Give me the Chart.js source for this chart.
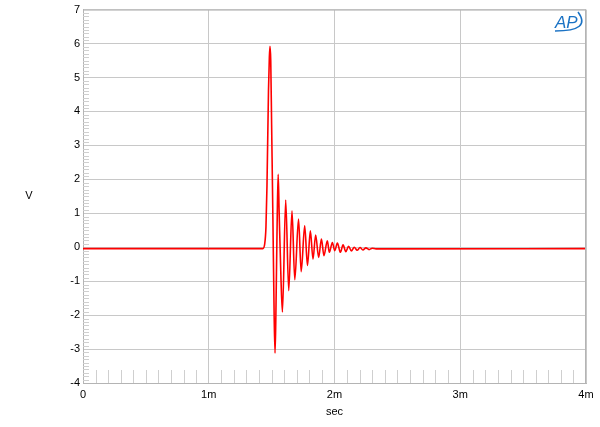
<!DOCTYPE html>
<html>
<head>
<meta charset="UTF-8">
<script src="https://cdn.jsdelivr.net/npm/chart.js@4"></script>
<style>
  html, body { margin: 0; padding: 0; background: #fff; }
  #wrap { width: 600px; height: 427px; }
</style>
</head>
<body>
<div id="wrap"><canvas id="c" width="600" height="427"></canvas></div>
<script>
// time in ms, voltage in V
const times = [0, 1.43, 1.445, 1.455, 1.463, 1.475, 1.482, 1.487, 1.493, 1.5, 1.51, 1.52, 1.527,
  1.533, 1.545, 1.552, 1.56, 1.575, 1.586, 1.612, 1.636, 1.662, 1.684, 1.714, 1.735, 1.763,
  1.785, 1.808, 1.829, 1.850, 1.874, 1.896, 1.916, 1.943, 1.959, 1.983, 2.002, 2.023, 2.047,
  2.068, 2.09, 2.112, 2.134, 2.157, 2.18, 2.203, 2.226, 2.25, 2.275, 2.3, 2.33, 4.0];
const volts = [-0.04, -0.04, 0.1, 0.6, 1.8, 4.6, 5.6, 5.92, 5.5, 3.6, 0.9, -2.0, -3.12,
  -2.2, 1.0, 2.15, 1.0, -1.0, -1.91, 1.39, -1.28, 1.07, -0.96, 0.83, -0.72, 0.63,
  -0.54, 0.48, -0.35, 0.36, -0.30, 0.24, -0.25, 0.19, -0.15, 0.14, -0.10, 0.12, -0.15,
  0.07, -0.13, 0.03, -0.11, 0.0, -0.09, -0.01, -0.08, -0.02, -0.07, -0.03, -0.05, -0.04];

const xTicks = [0, 1, 2, 3, 4];
const xLabels = ['0', '1m', '2m', '3m', '4m'];

const points = times.map((t, i) => ({ x: t, y: volts[i] }));

// minor ticks + axis label V + AP logo
const extras = {
  id: 'extras',
  beforeDatasetsDraw(chart) {
    const ctx = chart.ctx;
    const xs = chart.scales.x, ys = chart.scales.y;
    const a = chart.chartArea;
    ctx.save();
    ctx.strokeStyle = '#cfcfcf';
    ctx.lineWidth = 1;
    ctx.beginPath();
    for (let i = 1; i < 40; i++) {
      if (i % 10 === 0) continue;
      const px = Math.round(xs.getPixelForValue(i / 10)) + 0.5;
      ctx.moveTo(px, a.bottom);
      ctx.lineTo(px, a.bottom - 13);
    }
    for (let i = -40; i < 70; i++) {
      if (i % 10 === 0) continue;
      const py = Math.round(ys.getPixelForValue(i / 10)) + 0.5;
      ctx.moveTo(a.left, py);
      ctx.lineTo(a.left + 6, py);
    }
    ctx.stroke();
    ctx.restore();
  },
  afterDraw(chart) {
    const ctx = chart.ctx;
    const a = chart.chartArea;
    ctx.save();
    ctx.fillStyle = '#000';
    ctx.font = '11px Arial, "Liberation Sans", sans-serif';
    ctx.textAlign = 'center';
    ctx.textBaseline = 'middle';
    ctx.fillText('V', 29, (a.top + a.bottom) / 2);
    // logo
    ctx.fillStyle = '#1a72c4';
    ctx.strokeStyle = '#1a72c4';
    ctx.font = 'italic 17px Arial, "Liberation Sans", sans-serif';
    ctx.textAlign = 'left';
    ctx.textBaseline = 'alphabetic';
    ctx.fillText('AP', 555, 28);
    ctx.lineWidth = 1.5;
    ctx.beginPath();
    ctx.moveTo(555, 31);
    ctx.quadraticCurveTo(592, 31, 578, 12);
    ctx.stroke();
    ctx.restore();
  }
};

new Chart(document.getElementById('c'), {
  type: 'line',
  data: {
    datasets: [{
      data: points,
      borderColor: '#ff0000',
      borderWidth: 1.6,
      pointRadius: 0,
      cubicInterpolationMode: 'monotone',
      fill: false
    }]
  },
  options: {
    responsive: false,
    animation: false,
    events: [],
    layout: { padding: { left: 0, right: 14, top: 8, bottom: 0 } },
    plugins: { legend: { display: false }, tooltip: { enabled: false } },
    scales: {
      x: {
        type: 'linear',
        min: 0, max: 4,
        afterFit(s) { s.height = 44; },
        afterBuildTicks(s) { s.ticks = xTicks.map(v => ({ value: v })); },
        ticks: {
          color: '#000',
          font: { family: 'Arial, "Liberation Sans", sans-serif', size: 11 },
          padding: 5,
          maxRotation: 0,
          callback: (v) => xLabels[xTicks.indexOf(v)]
        },
        grid: { color: '#c8c8c8', drawTicks: false },
        border: { color: '#b4b4b4' },
        title: {
          display: true, text: 'sec', color: '#000',
          font: { family: 'Arial, "Liberation Sans", sans-serif', size: 11 },
          padding: { top: 0, bottom: 8 }
        }
      },
      y: {
        type: 'linear',
        min: -4, max: 7,
        afterFit(s) { s.width = 83; },
        ticks: {
          stepSize: 1,
          color: '#000',
          font: { family: 'Arial, "Liberation Sans", sans-serif', size: 11 },
          padding: 3
        },
        grid: { color: '#c8c8c8', drawTicks: false },
        border: { color: '#b4b4b4' }
      }
    }
  },
  plugins: [extras, {
    id: 'rightTopBorder',
    afterDatasetsDraw(chart) {
      const ctx = chart.ctx, a = chart.chartArea;
      ctx.save();
      ctx.strokeStyle = '#b4b4b4';
      ctx.lineWidth = 1;
      ctx.beginPath();
      ctx.moveTo(a.left, a.top + 0.5); ctx.lineTo(a.right, a.top + 0.5);
      ctx.moveTo(a.right - 0.5, a.top); ctx.lineTo(a.right - 0.5, a.bottom);
      ctx.stroke();
      ctx.restore();
    }
  }]
});
</script>
</body>
</html>
